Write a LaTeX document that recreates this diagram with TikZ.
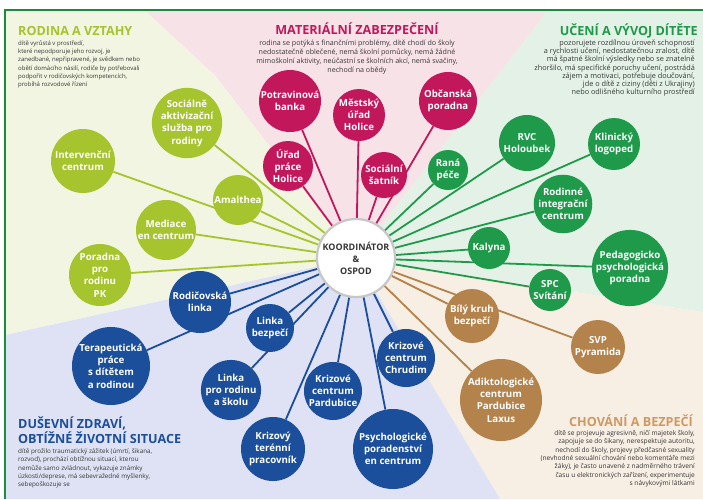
\documentclass[tikz,border=0pt]{standalone}
\usepackage{fontspec}
\setmainfont{Open Sans}
\usepackage{tikz}

\definecolor{cLime}{HTML}{A6C42E}
\definecolor{cRose}{HTML}{C2185B}
\definecolor{cGreen}{HTML}{1F9A4A}
\definecolor{cBlue}{HTML}{1B4E9B}
\definecolor{cBrown}{HTML}{B4834C}
\definecolor{cBrownT}{HTML}{CE9A62}
\definecolor{bgLime}{HTML}{F2F5E1}
\definecolor{bgRose}{HTML}{F7E2E8}
\definecolor{bgGreen}{HTML}{E3F1E6}
\definecolor{bgBrown}{HTML}{F7EEE4}
\definecolor{bgBlue}{HTML}{DEE2F4}
\definecolor{frameGreen}{HTML}{1B8C3E}
\definecolor{txt}{HTML}{363636}

\pgfdeclarelayer{regions}
\pgfdeclarelayer{lines}
\pgfsetlayers{regions,lines,main}

\tikzset{
  org/.style={circle,fill=#1,text=white,inner sep=0pt,align=center,
    font=\bfseries\fontsize{9.7}{12.3}\selectfont},
  conn/.style={draw=#1,line width=1.8pt},
  heading/.style={inner sep=0pt,font=\bfseries\fontsize{12.6}{15}\selectfont},
  desc/.style={text=txt,inner sep=0pt}
}

\begin{document}
\begin{tikzpicture}[x=1pt,y=-1pt]
\useasboundingbox (0,0) rectangle (703,499);

% five areas round the coordinator
\begin{pgfonlayer}{regions}
\fill[white] (0,0) rectangle (703,499);
\coordinate (mid) at (356,258);
\fill[bgLime] (5.5,10.5) -- (145,10.5) -- (215,75) -- (mid) -- (5.5,335) -- cycle;
\fill[bgRose] (145,10.5) -- (548,10.5) -- (mid) -- (215,75) -- cycle;
\fill[bgGreen] (548,10.5) -- (703,10.5) -- (703,312) -- (mid) -- cycle;
\fill[bgBrown] (mid) -- (703,312) -- (703,499) -- (500,499) -- cycle;
\fill[bgBlue] (mid) -- (500,499) -- (5.5,499) -- (5.5,335) -- cycle;
\draw[frameGreen,line width=2pt] (4.5,499) -- (4.5,9.5) -- (703,9.5);
\end{pgfonlayer}

% headings, the base of a block is its last line
\node[heading,text=cLime,anchor=base west] (tRodina) at (18,35) {RODINA A VZTAHY};
\node[desc,align=left,anchor=base west,font=\fontsize{6}{8.2}\selectfont] (dRodina) at (18,86.5)
  {dítě vyrůstá v prostředí,\\které nepodporuje jeho rozvoj, je\\zanedbané, nepřipravené, je svědkem nebo\\obětí domácího násilí, rodiče by potřebovali\\podpořit v rodičovských kompetencích,\\probíhá rozvodové řízení};
\node[heading,text=cRose,anchor=base] (tMaterial) at (357,34) {MATERIÁLNÍ ZABEZPEČENÍ};
\node[desc,align=center,anchor=base,font=\fontsize{7.1}{9}\selectfont] (dMaterial) at (357,72.5)
  {rodina se potýká s finančními problémy, dítě chodí do školy\\nedostatečně oblečené, nemá školní pomůcky, nemá žádné\\mimoškolní aktivity, neúčastní se školních akcí, nemá svačiny,\\nechodí na obědy};
\node[heading,text=cGreen,anchor=base east] (tUceni) at (698,35) {UČENÍ A VÝVOJ DÍTĚTE};
\node[desc,align=right,anchor=base east,font=\fontsize{7.3}{8.2}\selectfont] (dUceni) at (695,94.7)
  {pozorujete rozdílnou úroveň schopností\\a rychlosti učení, nedostatečnou zralost, dítě\\má špatné školní výsledky nebo se znatelně\\zhoršilo, má specifické poruchy učení, postrádá\\zájem a motivaci, potřebuje doučování,\\jde o dítě z ciziny (děti z Ukrajiny)\\nebo odlišného kulturního prostředí};
\node[heading,text=cBlue,align=left,anchor=base west] (tDusevni) at (18,443) {DUŠEVNÍ ZDRAVÍ,\\OBTÍŽNÉ ŽIVOTNÍ SITUACE};
\node[desc,align=left,anchor=base west,font=\fontsize{6.3}{8.25}\selectfont] (dDusevni) at (18,486.5)
  {dítě prožilo traumatický zážitek (úmrtí, šikana,\\rozvod), prochází obtížnou situací, kterou\\nemůže samo zvládnout, vykazuje známky\\úzkosti/deprese, má sebevražedné myšlenky,\\sebepoškozuje se};
\node[heading,text=cBrownT,anchor=base east] (tChovani) at (693,426) {CHOVÁNÍ A BEZPEČÍ};
\node[desc,align=right,anchor=base east,font=\fontsize{6.6}{8.3}\selectfont] (dChovani) at (695,485.3)
  {dítě se projevuje agresivně, ničí majetek školy,\\zapojuje se do šikany, nerespektuje autoritu,\\nechodí do školy, projevy předčasné sexuality\\(nevhodné sexuální chování nebo komentáře mezi\\žáky), je často unavené z nadměrného trávení\\času u elektronických zařízení, experimentuje\\s návykovými látkami};

% coordinator
\node[circle,fill=white,draw=black!22,line width=2.2pt,minimum size=78pt,inner sep=0pt,align=center,
  text=txt,font=\bfseries\fontsize{9}{12}\selectfont] (koord) at (mid) {KOORDINÁTOR\\\&\\OSPOD};

% rodina a vztahy
\node[org=cLime,minimum size=64pt] (socialne) at (187,123) {Sociálně\\aktivizační\\služba pro\\rodiny};
\node[org=cLime,minimum size=64pt] (intervencni) at (83,161) {Intervenční\\centrum};
\node[org=cLime,minimum size=50pt] (amalthea) at (238,200) {Amalthea};
\node[org=cLime,minimum size=60pt] (mediace) at (166,230) {Mediace\\en centrum};
\node[org=cLime,minimum size=62pt] (poradnaPK) at (100,275) {Poradna\\pro\\rodinu\\PK};

% materialni zabezpeceni
\node[org=cRose,minimum size=62pt] (potravinova) at (290,101) {Potravinová\\banka};
\node[org=cRose,minimum size=52pt] (mestsky) at (359,115) {Městský\\úřad\\Holice};
\node[org=cRose,minimum size=58pt] (obcanska) at (448,101) {Občanská\\poradna};
\node[org=cRose,minimum size=50pt] (uradPrace) at (288,166) {Úřad\\práce\\Holice};
\node[org=cRose,minimum size=46pt] (satnik) at (384,175) {Sociální\\šatník};

% uceni a vyvoj ditete
\node[org=cGreen,minimum size=40pt] (rana) at (448,170) {Raná\\péče};
\node[org=cGreen,minimum size=56pt] (rvc) at (527,143) {RVC\\Holoubek};
\node[org=cGreen,minimum size=52pt] (logoped) at (614,144) {Klinický\\logoped};
\node[org=cGreen,minimum size=58pt] (integracni) at (563,204) {Rodinné\\integrační\\centrum};
\node[org=cGreen,minimum size=42pt] (kalyna) at (489,248) {Kalyna};
\node[org=cGreen,minimum size=76pt] (ppp) at (630,268) {Pedagogicko\\psychologická\\poradna};
\node[org=cGreen,minimum size=42pt] (spc) at (550,290) {SPC\\Svítání};

% chovani a bezpeci
\node[org=cBrown,minimum size=54pt] (bilyKruh) at (472,316) {Bílý kruh\\bezpečí};
\node[org=cBrown,minimum size=54pt] (svp) at (598,347) {SVP\\Pyramida};
\node[org=cBrown,minimum size=82pt] (laxus) at (501,400) {Adiktologické\\centrum\\Pardubice\\Laxus};

% dusevni zdravi
\node[org=cBlue,minimum size=62pt] (rodicovska) at (200,302) {Rodičovská\\linka};
\node[org=cBlue,minimum size=78pt] (terapeut) at (111,366) {Terapeutická\\práce\\s dítětem\\a rodinou};
\node[org=cBlue,minimum size=48pt] (bezpeci) at (270,328) {Linka\\bezpečí};
\node[org=cBlue,minimum size=56pt] (skolu) at (231,390) {Linka\\pro rodinu\\a školu};
\node[org=cBlue,minimum size=64pt] (terenni) at (273,449) {Krizový\\terénní\\pracovník};
\node[org=cBlue,minimum size=58pt] (kcPardubice) at (333,391) {Krizové\\centrum\\Pardubice};
\node[org=cBlue,minimum size=58pt] (kcChrudim) at (406,358) {Krizové\\centrum\\Chrudim};
\node[org=cBlue,minimum size=80pt] (psycho) at (393,449) {Psychologické\\poradenství\\en centrum};

% spokes
\begin{pgfonlayer}{lines}
\draw[conn=cLime] (koord) -- (socialne);
\draw[conn=cLime] (koord) -- (intervencni);
\draw[conn=cLime] (koord) -- (amalthea);
\draw[conn=cLime] (koord) -- (mediace);
\draw[conn=cLime] (koord) -- (poradnaPK);
\draw[conn=cRose] (koord) -- (potravinova);
\draw[conn=cRose] (koord) -- (mestsky);
\draw[conn=cRose] (koord) -- (obcanska);
\draw[conn=cRose] (koord) -- (uradPrace);
\draw[conn=cRose] (koord) -- (satnik);
\draw[conn=cGreen] (koord) -- (rana);
\draw[conn=cGreen] (koord) -- (rvc);
\draw[conn=cGreen] (koord) -- (logoped);
\draw[conn=cGreen] (koord) -- (integracni);
\draw[conn=cGreen] (koord) -- (kalyna);
\draw[conn=cGreen] (koord) -- (ppp);
\draw[conn=cGreen] (koord) -- (spc);
\draw[conn=cBrown] (koord) -- (bilyKruh);
\draw[conn=cBrown] (koord) -- (svp);
\draw[conn=cBrown] (koord) -- (laxus);
\draw[conn=cBlue] (koord) -- (rodicovska);
\draw[conn=cBlue] (koord) -- (terapeut);
\draw[conn=cBlue] (koord) -- (bezpeci);
\draw[conn=cBlue] (koord) -- (skolu);
\draw[conn=cBlue] (koord) -- (terenni);
\draw[conn=cBlue] (koord) -- (kcPardubice);
\draw[conn=cBlue] (koord) -- (kcChrudim);
\draw[conn=cBlue] (koord) -- (psycho);
\end{pgfonlayer}
\end{tikzpicture}
\end{document}
